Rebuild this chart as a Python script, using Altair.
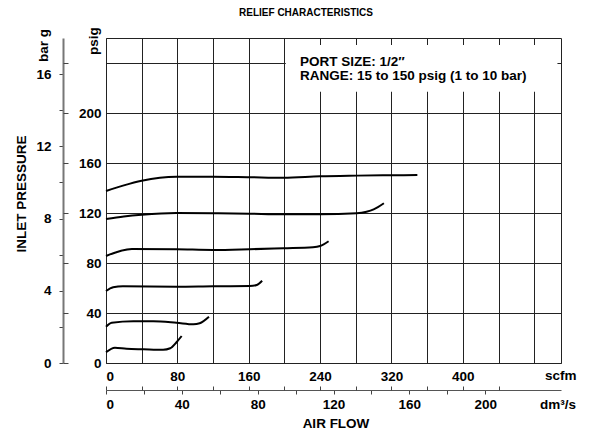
import altair as alt
import pandas as pd

# ---------------- data ----------------
curve_names = ["c1", "c2", "c3", "c4", "c5", "c6"]

c1_scfm = [0, 20, 40, 79, 120, 161, 199, 240, 281, 320, 349]
c1_psig = [137.6, 142.1, 145.8, 149.0, 149.0, 148.6, 148.2, 149.4, 149.9, 150.2, 150.4]

c2_scfm = [0, 20, 40, 79, 120, 161, 199, 240, 281, 292, 300, 311.5]
c2_psig = [115.2, 117.2, 118.6, 120.0, 119.8, 119.4, 119.0, 119.0, 119.8, 121.0, 122.9, 127.8]

c3_scfm = [0, 29, 79, 120, 161, 199, 232, 240, 249.5]
c3_psig = [85.6, 91.2, 91.0, 90.4, 91.0, 91.8, 92.6, 93.6, 97.4]

c4_scfm = [0, 8, 19, 79, 120, 161, 169, 175]
c4_psig = [57.6, 60.6, 61.4, 61.0, 61.4, 61.6, 62.4, 65.8]

c5_scfm = [0, 6.4, 30.6, 53, 79, 98, 105, 115.4]
c5_psig = [29.0, 32.2, 33.4, 33.4, 32.2, 31.0, 31.8, 37.0]

c6_scfm = [0, 10, 23, 42, 64, 72, 79, 84.8]
c6_psig = [8.6, 12.2, 11.4, 11.0, 10.6, 11.8, 16.6, 21.6]

scfm_grid = [0, 40, 80, 120, 160, 200, 240, 280, 320, 360, 400, 440, 480]
scfm_tick_marks = [0, 40, 80, 120, 160, 200, 240, 280, 320, 360, 400, 440]
psig_grid = [0, 40, 80, 120, 160, 200, 240]
bar_ticks = [0, 2, 4, 6, 8, 10, 12, 14, 16]
dm_ticks = [0, 20, 40, 60, 80, 100, 120, 140, 160, 180, 200]

title_text = "RELIEF CHARACTERISTICS"
y_title = "INLET PRESSURE"
x_title = "AIR FLOW"
note_lines = ["PORT SIZE: 1/2\u2033", "RANGE: 15 to 150 psig (1 to 10 bar)"]

# ---------------- layout constants ----------------
W, H = 455, 325
X_MAX, Y_MAX = 510, 260
BAR_MAX = 18.0
DM_MAX = 240.0
FONT = "Liberation Sans"
FS = 13.5

# white box behind the note (in data units)
box = pd.DataFrame({"x1": [201.5], "x2": [506], "y1": [217], "y2": [254.5]})

rows = []
for name, xs, ys in zip(curve_names,
                        [c1_scfm, c2_scfm, c3_scfm, c4_scfm, c5_scfm, c6_scfm],
                        [c1_psig, c2_psig, c3_psig, c4_psig, c5_psig, c6_psig]):
    for i, (a, b) in enumerate(zip(xs, ys)):
        rows.append({"curve": name, "scfm": a, "psig": b, "i": i})
df = pd.DataFrame(rows)

xs_main = alt.Scale(domain=[0, X_MAX], nice=False, zero=False)
ys_main = alt.Scale(domain=[0, Y_MAX], nice=False, zero=False)

lines = alt.Chart(df).mark_line(color="black", strokeWidth=2, interpolate="monotone").encode(
    x=alt.X("scfm:Q", scale=xs_main,
            axis=alt.Axis(values=scfm_grid,
                          labelExpr="datum.value <= 400 && datum.value % 80 == 0 ? datum.label : ''",
                          grid=True, gridColor="#222", gridWidth=1, ticks=False, domain=False,
                          labelPadding=6, labelOverlap=False, title=None, zindex=0)),
    y=alt.Y("psig:Q", scale=ys_main,
            axis=alt.Axis(values=psig_grid,
                          labelExpr="datum.value <= 200 ? datum.label : ''",
                          grid=True, gridColor="#222", gridWidth=1, ticks=False, domain=False,
                          labelPadding=5, labelOverlap=False, title=None, zindex=0)),
    detail="curve:N",
    order="i:Q",
)

note_box = alt.Chart(box).mark_rect(color="white").encode(
    x=alt.X("x1:Q", scale=xs_main, axis=None),
    x2="x2:Q",
    y=alt.Y("y1:Q", scale=ys_main, axis=None),
    y2="y2:Q",
)

bar_axis = alt.Chart(pd.DataFrame({"bar": bar_ticks})).mark_point(opacity=0).encode(
    y=alt.Y("bar:Q", scale=alt.Scale(domain=[0, BAR_MAX], nice=False, zero=False),
            axis=alt.Axis(orient="left", offset=43, values=bar_ticks,
                          labelExpr="datum.value % 4 == 0 ? datum.label : ''",
                          tickSize=4, tickColor="#444", domain=True, domainColor="#777",
                          domainWidth=2, grid=False, labelPadding=8, labelOverlap=False,
                          title=None))
)

psig_ticks = alt.Chart(pd.DataFrame({"p": psig_grid})).mark_point(opacity=0).encode(
    y=alt.Y("p:Q", scale=alt.Scale(domain=[0, Y_MAX], nice=False, zero=False),
            axis=alt.Axis(orient="right", offset=-(W + 43), values=psig_grid, labels=False,
                          tickSize=5, tickColor="#444", domain=False, grid=False, title=None))
)

dm_axis = alt.Chart(pd.DataFrame({"dm": dm_ticks})).mark_point(opacity=0).encode(
    x=alt.X("dm:Q", scale=alt.Scale(domain=[0, DM_MAX], nice=False, zero=False),
            axis=alt.Axis(orient="bottom", offset=27, values=dm_ticks,
                          labelExpr="datum.value % 40 == 0 ? datum.label : ''",
                          tickSize=4, tickColor="#444", domain=True, domainColor="#555",
                          domainWidth=1, grid=False, labelPadding=3, labelOverlap=False,
                          title=None))
)

scfm_ticks = alt.Chart(pd.DataFrame({"s": scfm_tick_marks})).mark_point(opacity=0).encode(
    x=alt.X("s:Q", scale=alt.Scale(domain=[0, X_MAX], nice=False, zero=False),
            axis=alt.Axis(orient="top", offset=-(H + 27), values=scfm_tick_marks, labels=False,
                          tickSize=4, tickColor="#444", domain=False, grid=False, title=None))
)


def label(text, x, y, size=FS, angle=0, align="left"):
    return alt.Chart(pd.DataFrame({"t": [text]})).mark_text(
        font=FONT, fontWeight="bold", fontSize=size, color="black",
        align=align, baseline="middle", angle=angle,
    ).encode(text="t:N", x=alt.value(x), y=alt.value(y))


texts = [
    label(title_text, 200, -25, size=10, align="center"),
    label(y_title, -84, 156, angle=270, align="center"),
    label("bar g", -62, 24, angle=270),
    label("psig", -12, 17, angle=270),
    label("scfm", 439, 338),
    label("dm\u00b3/s", 434, 367),
    label(x_title, 230, 386, align="center"),
    label(note_lines[0], 194, 24, size=13.5),
    label(note_lines[1], 194, 37.5, size=13.5),
]

chart = alt.layer(note_box, lines, bar_axis, psig_ticks, dm_axis, scfm_ticks, *texts).resolve_scale(
    x="independent", y="independent"
).properties(
    width=W, height=H,
    padding={"left": 98, "top": 30, "right": 26, "bottom": 68},
    autosize=alt.AutoSizeParams(type="none"),
).configure_view(
    stroke="#222", strokeWidth=1
).configure_axis(
    labelFont=FONT, labelFontSize=FS, labelFontWeight="bold", labelColor="black"
)

chart.save("out.html", embed_options={"renderer": "svg", "actions": False})
